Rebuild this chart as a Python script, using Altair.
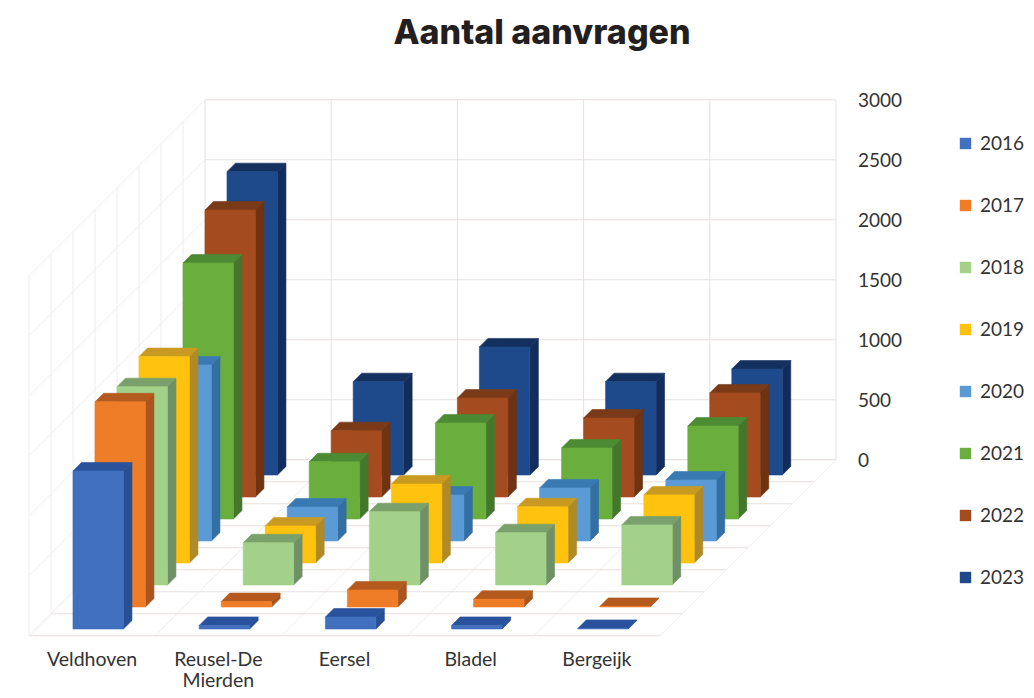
import altair as alt
import pandas as pd

title = "Aantal aanvragen"
categories = ["Veldhoven", "Reusel-De\nMierden", "Eersel", "Bladel", "Bergeijk"]
years = ["2016", "2017", "2018", "2019", "2020", "2021", "2022", "2023"]
ticks = [0, 500, 1000, 1500, 2000, 2500, 3000]

v2016 = [1317, 30, 100, 30, 5]
v2017 = [1710, 45, 142, 65, 5]
v2018 = [1653, 352, 611, 436, 500]
v2019 = [1720, 308, 658, 469, 567]
v2020 = [1467, 283, 383, 442, 508]
v2021 = [2133, 477, 800, 592, 775]
v2022 = [2392, 553, 825, 658, 867]
v2023 = [2528, 778, 1067, 778, 883]
series = [v2016, v2017, v2018, v2019, v2020, v2021, v2022, v2023]

front_colors = ["#4070BE", "#EF7C26", "#A3D18A", "#FFC20E", "#5B9BD5", "#6AAE3E", "#A44C1F", "#1E4A8B"]
side_colors = ["#264F94", "#AA5520", "#6F9166", "#B08A25", "#336FA3", "#43782C", "#6F3312", "#122D5C"]
top_colors = ["#2A529C", "#B55A1E", "#7AA06C", "#C99A22", "#3A7AB2", "#4C8A33", "#7A3A17", "#14305F"]

# Oblique projection of (category, depth, value) on to page pixels
X0, Y0, CAT, DEPTH, UNIT = 29.0, 635.75, 126.2, 22.0, 0.12
W, H, TOP = 1018, 627, 55


def px(c, d):
    return X0 + CAT * c + DEPTH * d


def py(d, v):
    return Y0 - DEPTH * d - UNIT * v


BAR_C0, BAR_C1 = 0.295, 0.695
BAR_D0, BAR_D1 = 0.307, 0.693

faces = []
for s in reversed(range(len(years))):
    for c in range(len(categories)):
        v = series[s][c]
        c0, c1 = c + BAR_C0, c + BAR_C1
        d0, d1 = s + BAR_D0, s + BAR_D1
        shapes = {
            "": [(c0, d0, 0), (c1, d0, 0), (c1, d0, v), (c0, d0, v)],
            " side": [(c1, d0, 0), (c1, d1, 0), (c1, d1, v), (c1, d0, v)],
            " top": [(c0, d0, v), (c1, d0, v), (c1, d1, v), (c0, d1, v)],
        }
        for suffix in [" side", " top", ""]:
            pts = shapes[suffix]
            for i, (pc, pd_, pv) in enumerate(pts + pts[:1]):
                faces.append({
                    "face": f"{years[s]}-{c}{suffix}",
                    "key": years[s] + suffix,
                    "i": i,
                    "x": px(pc, pd_),
                    "y": py(pd_, pv),
                })
faces = pd.DataFrame(faces)

key_domain, key_range = [], []
for s, y in enumerate(years):
    key_domain += [y, y + " side", y + " top"]
    key_range += [front_colors[s], side_colors[s], top_colors[s]]

n_c, n_d, vmax = len(categories), len(years), ticks[-1]
grid = []


def seg(p, q, kind):
    grid.append({"x": px(p[0], p[1]), "y": py(p[1], p[2]),
                 "x2": px(q[0], q[1]), "y2": py(q[1], q[2]), "kind": kind})


for t in ticks:
    seg((0, n_d, t), (n_c, n_d, t), "back")
    seg((0, 0, t), (0, n_d, t), "left")
for c in range(n_c + 1):
    seg((c, n_d, 0), (c, n_d, vmax), "back")
    seg((c, 0, 0), (c, n_d, 0), "left")
for d in range(n_d + 1):
    seg((0, d, 0), (n_c, d, 0), "back")
    seg((0, d, 0), (0, d, vmax), "left")
grid = pd.DataFrame(grid)

tick_df = pd.DataFrame({"x": [px(n_c, n_d) + 22] * len(ticks),
                        "y": [py(n_d, t) + 1 for t in ticks],
                        "label": [str(t) for t in ticks]})
cat_df = pd.DataFrame({"x": [px(c + 0.5, 0) for c in range(n_c)],
                       "y": [Y0 + 15] * n_c,
                       "label": categories})

xs = alt.Scale(domain=[8, 8 + W], range=[0, W], nice=False, zero=False)
ys = alt.Scale(domain=[8 + TOP, 8 + TOP + H], range=[0, H], nice=False, zero=False)
X = alt.X("x:Q", scale=xs, axis=None)
Y = alt.Y("y:Q", scale=ys, axis=None)

FONT = "Lato"

grid_layer = alt.Chart(grid).mark_rule(strokeWidth=1).encode(
    x=X, y=Y, x2="x2:Q", y2="y2:Q",
    color=alt.Color("kind:N", scale=alt.Scale(domain=["back", "left"], range=["#E7E1DE", "#EFEEEE"]), legend=None),
)

bars = alt.Chart(faces).mark_line(strokeWidth=0.6, interpolate="linear").encode(
    x=X, y=Y,
    order="i:Q",
    detail="face:N",
    fill=alt.Fill("key:N", scale=alt.Scale(domain=key_domain, range=key_range),
                  legend=alt.Legend(title=None, orient="none", legendX=948, legendY=71,
                                    values=years, symbolType="square", symbolSize=130,
                                    symbolStrokeWidth=0, labelFont=FONT, labelFontSize=19,
                                    labelColor="#333333", rowPadding=42, labelOffset=5,
                                    labelLimit=100)),
    stroke=alt.Stroke("key:N", scale=alt.Scale(domain=key_domain, range=key_range), legend=None),
)

tick_text = alt.Chart(tick_df).mark_text(font=FONT, fontSize=19, color="#333333", align="left", baseline="middle").encode(
    x=X, y=Y, text="label:N")

cat_text = alt.Chart(cat_df).mark_text(font=FONT, fontSize=19.5, color="#333333", align="center", baseline="top",
                                       lineBreak="\n", lineHeight=21).encode(
    x=X, y=Y, text="label:N")

chart = alt.layer(grid_layer, bars, tick_text, cat_text).resolve_scale(
    color="independent", fill="independent", stroke="independent"
).properties(
    width=W, height=H,
    title=alt.TitleParams(title, font="Inter", fontSize=34, fontWeight=800, color="#231F20",
                          anchor="middle", dx=25, offset=12),
    padding={"left": 0, "right": 0, "top": TOP, "bottom": 0},
    autosize=alt.AutoSizeParams(type="none"),
).configure_view(strokeWidth=0)

chart.save("out.html", embed_options={"renderer": "svg", "actions": False})
